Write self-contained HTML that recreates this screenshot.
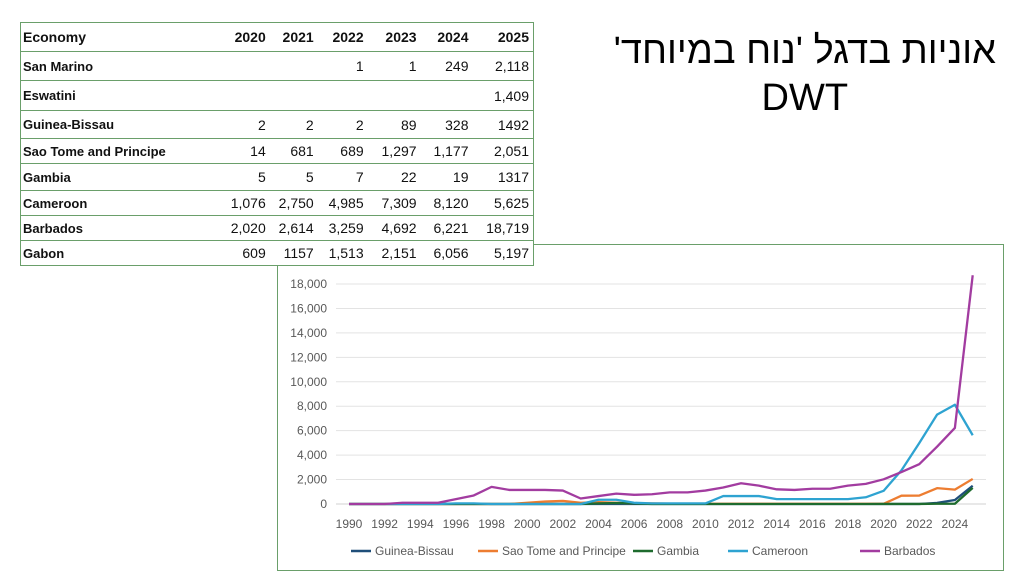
<!DOCTYPE html>
<html><head><meta charset="utf-8"><style>
body{margin:0;width:1024px;height:576px;background:#fff;position:relative;overflow:hidden;font-family:"Liberation Sans",sans-serif}
table{position:absolute;left:20px;top:22px;border-collapse:collapse;border:1px solid #6a9f6a;width:514px;background:#fff;z-index:2}
td{border-bottom:1px solid #6a9f6a;padding:0 0 0 2px;font-size:14px;color:#111;text-align:right;padding-right:4px}
td:first-child{text-align:left;font-weight:bold;font-size:13px}
tr.h td{font-weight:bold;font-size:14px}
#title{position:absolute;right:28px;top:28px;font-size:38px;text-align:center;font-family:"Liberation Sans","DejaVu Sans",sans-serif;line-height:47px;color:#000}
#chart{position:absolute;left:277px;top:244px;width:725px;height:325px;border:1px solid #6a9f6a;z-index:1}
</style></head><body>
<table>
<colgroup><col style="width:200px"><col style="width:50px"><col style="width:48px"><col style="width:50px"><col style="width:53px"><col style="width:52px"><col style="width:61px"></colgroup>
<tr class="h" style="height:29px"><td>Economy</td><td>2020</td><td>2021</td><td>2022</td><td>2023</td><td>2024</td><td>2025</td></tr>
<tr style="height:29px"><td>San Marino</td><td></td><td></td><td>1</td><td>1</td><td>249</td><td>2,118</td></tr>
<tr style="height:30px"><td>Eswatini</td><td></td><td></td><td></td><td></td><td></td><td>1,409</td></tr>
<tr style="height:28px"><td>Guinea-Bissau</td><td>2</td><td>2</td><td>2</td><td>89</td><td>328</td><td>1492</td></tr>
<tr style="height:25px"><td>Sao Tome and Principe</td><td>14</td><td>681</td><td>689</td><td>1,297</td><td>1,177</td><td>2,051</td></tr>
<tr style="height:27px"><td>Gambia</td><td>5</td><td>5</td><td>7</td><td>22</td><td>19</td><td>1317</td></tr>
<tr style="height:25px"><td>Cameroon</td><td>1,076</td><td>2,750</td><td>4,985</td><td>7,309</td><td>8,120</td><td>5,625</td></tr>
<tr style="height:25px"><td>Barbados</td><td>2,020</td><td>2,614</td><td>3,259</td><td>4,692</td><td>6,221</td><td>18,719</td></tr>
<tr style="height:25px"><td>Gabon</td><td>609</td><td>1157</td><td>1,513</td><td>2,151</td><td>6,056</td><td>5,197</td></tr>
</table>
<div id="title"><span dir="rtl">אוניות בדגל 'נוח במיוחד'</span><br>DWT</div>
<div id="chart"><svg id="svg" width="725" height="325"></svg></div>
<script>
const years=[];for(let y=1990;y<=2025;y++)years.push(y);
const yTicks=[0,2000,4000,6000,8000,10000,12000,14000,16000,18000];
const guinea=[0,0,0,0,0,0,0,0,0,0,0,0,0,0,0,0,0,0,0,0,0,0,0,0,0,0,0,0,0,0,2,2,2,89,328,1492];
const saoTome=[0,0,0,0,0,0,0,0,0,0,100,200,250,100,150,100,50,50,30,20,20,20,20,20,20,20,20,20,20,20,14,681,689,1297,1177,2051];
const gambia=[0,0,0,0,0,0,0,0,0,0,0,0,0,0,50,80,50,0,0,0,0,0,0,0,0,0,0,0,0,0,5,5,7,22,19,1317];
const cameroon=[0,0,0,0,0,0,50,50,0,0,0,0,0,0,350,350,100,50,50,50,50,650,650,650,400,400,400,400,400,550,1076,2750,4985,7309,8120,5625];
const barbados=[0,0,0,100,100,100,400,700,1400,1150,1150,1150,1100,450,650,850,750,800,950,950,1100,1350,1700,1500,1200,1150,1250,1250,1500,1650,2020,2614,3259,4692,6221,18719];
const series=[["Guinea-Bissau",guinea,"#1f4e79"],["Sao Tome and Principe",saoTome,"#ed7d31"],["Gambia",gambia,"#1e6b2e"],["Cameroon",cameroon,"#2ea3d1"],["Barbados",barbados,"#a23ca0"]];
const svg=document.getElementById('svg');const NS="http://www.w3.org/2000/svg";
const ox=277,oy=244;
const X=y=>348+(y-1990)*17.82-ox, Y=v=>503-v*(220/18000)-oy;
function mk(t,a,txt){const e=document.createElementNS(NS,t);for(const k in a)e.setAttribute(k,a[k]);if(txt!=null)e.textContent=txt;svg.appendChild(e);return e;}
yTicks.forEach(v=>{const g=mk('line',{x1:58,x2:708,y1:Y(v),y2:Y(v),stroke:v?'#e3e3e3':'#d0d0d0','stroke-width':1});

const t=mk('text',{x:49,y:Y(v)+4,'text-anchor':'end','font-size':12,fill:'#595959','font-family':'Liberation Sans'},v.toLocaleString('en-US'));
});
years.filter(y=>y%2==0).forEach(y=>{const t=mk('text',{x:X(y),y:Y(0)+24,'text-anchor':'middle','font-size':12,fill:'#595959','font-family':'Liberation Sans'},y);
});
series.forEach(([n,d,c])=>{const p=mk('polyline',{points:d.map((v,i)=>X(years[i])+','+Y(v)).join(' '),fill:'none',stroke:c,'stroke-width':2.3,'stroke-linejoin':'round'});
});
const lx=[73,200,355,450,582];
series.forEach(([n,d,c],i)=>{const l=mk('line',{x1:lx[i],x2:lx[i]+20,y1:306,y2:306,stroke:c,'stroke-width':2.5});

const t=mk('text',{x:lx[i]+24,y:310,'font-size':12,fill:'#595959','font-family':'Liberation Sans'},n);
});
</script>
</body></html>
